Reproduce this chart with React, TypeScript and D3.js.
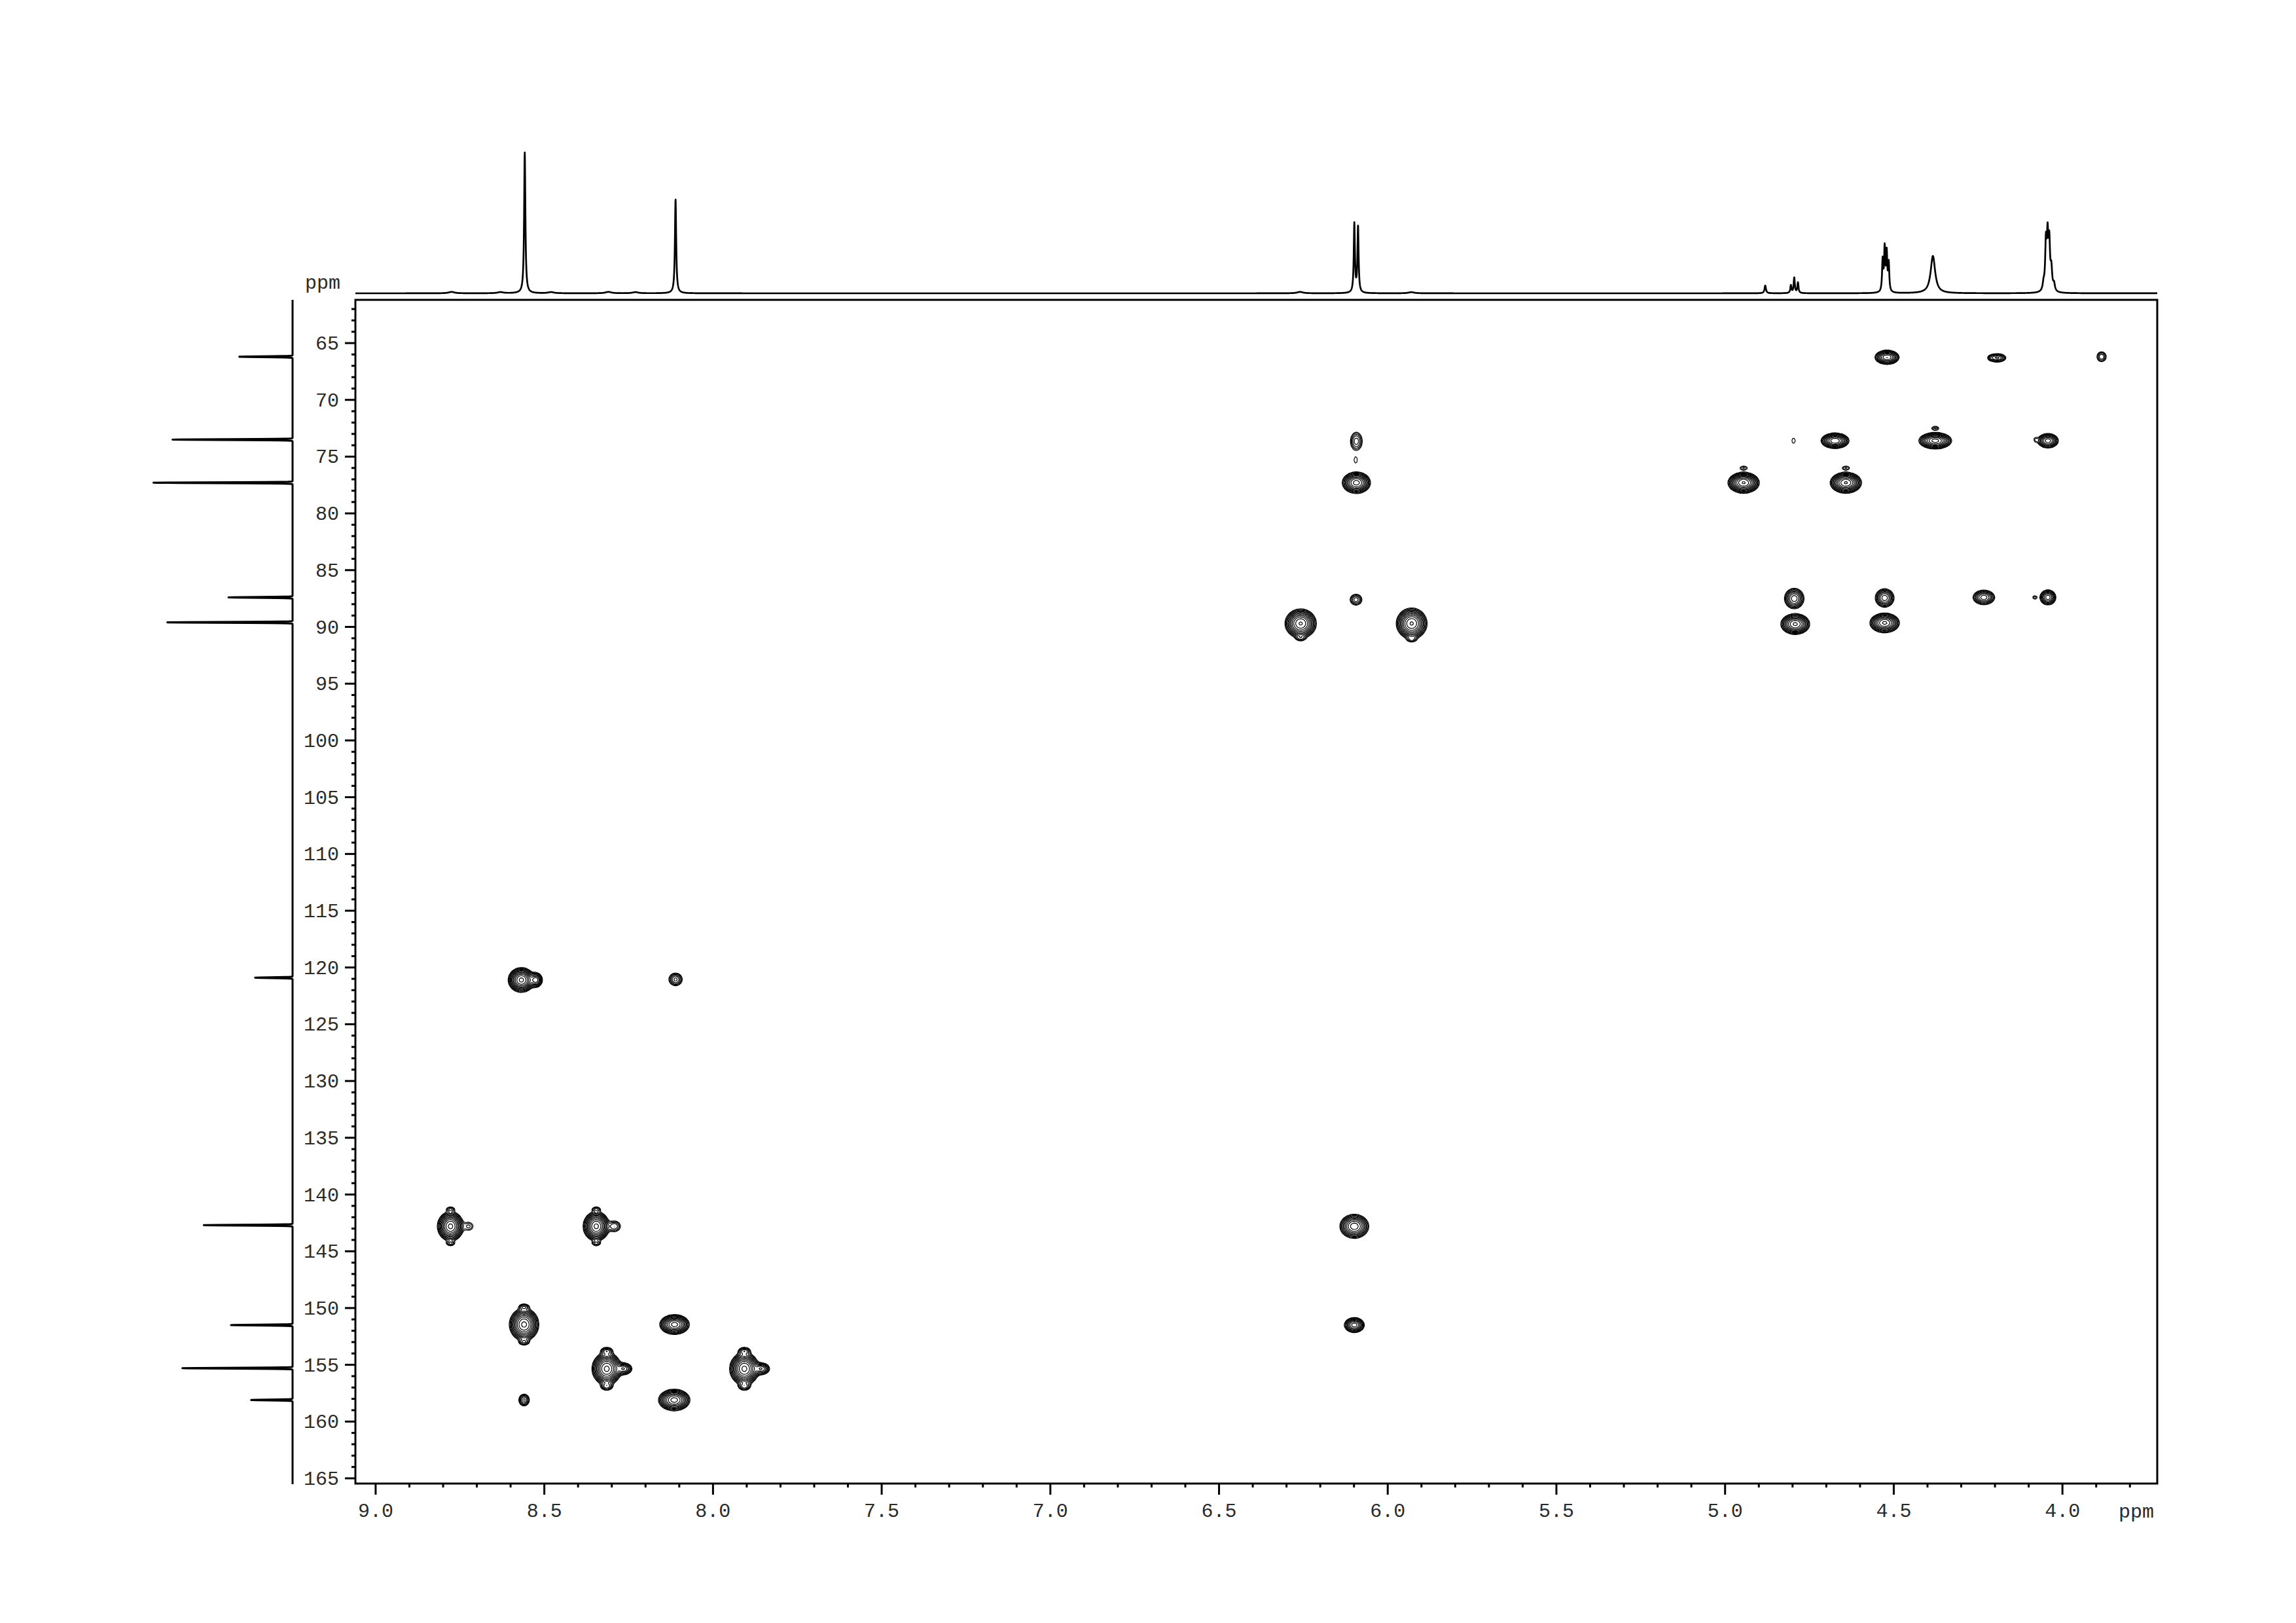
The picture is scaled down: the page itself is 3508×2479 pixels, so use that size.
import React, { useMemo } from 'react';
import * as d3 from 'd3';

// ---------- 1H projection (top) ----------
const hShift = [8.775, 8.63, 8.558, 8.48, 8.31, 8.23, 8.111, 6.26, 6.099, 6.088, 5.93, 4.881, 4.805, 4.795, 4.784, 4.533, 4.527, 4.521, 4.515, 4.384, 4.056, 4.049, 4.044, 4.039, 4.033, 4.025];
const hHeight = [0.01, 0.008, 1.0, 0.008, 0.01, 0.008, 0.67, 0.01, 0.49, 0.47, 0.008, 0.055, 0.055, 0.11, 0.075, 0.22, 0.3, 0.27, 0.2, 0.265, 0.05, 0.33, 0.36, 0.32, 0.15, 0.05];
const hWidth = [0.01, 0.01, 0.0022, 0.01, 0.01, 0.01, 0.0022, 0.01, 0.002, 0.002, 0.01, 0.0025, 0.002, 0.002, 0.002, 0.002, 0.002, 0.002, 0.002, 0.008, 0.003, 0.0025, 0.0025, 0.0025, 0.003, 0.003];

// ---------- 13C projection (left) ----------
const cShift = [66.2, 73.5, 77.3, 87.4, 89.6, 120.9, 142.7, 151.5, 155.3, 158.1];
const cHeight = [0.386, 0.856, 1.0, 0.456, 0.907, 0.27, 0.64, 0.44, 0.79, 0.3];

// ---------- 2D cross peaks ----------
const peakH = [4.520, 4.193, 4.212, 3.884, 4.797, 4.674, 4.377, 4.043, 4.08, 4.945, 4.642, 4.795, 4.792, 4.527, 4.527, 4.233, 4.043, 4.082,
  6.093, 6.095, 6.093, 6.094, 6.258, 5.929,
  8.778, 8.724, 8.346, 8.292, 8.56, 8.114, 8.315, 8.265, 7.907, 7.857, 8.56, 8.115,
  8.568, 8.525, 8.111, 6.099, 6.099,
  8.778, 8.778, 8.346, 8.346, 8.56, 8.56, 8.315, 8.315, 7.907, 7.907, 6.258, 5.929, 4.945, 4.642, 4.377];
const peakC = [66.25, 66.3, 66.3, 66.2, 73.6, 73.6, 73.6, 73.6, 73.5, 77.3, 77.3, 87.5, 89.75, 87.45, 89.65, 87.4, 87.4, 87.4,
  73.65, 75.3, 77.3, 87.6, 89.7, 89.7,
  142.8, 142.8, 142.8, 142.8, 151.45, 151.45, 155.35, 155.35, 155.35, 155.35, 158.1, 158.1,
  121.1, 121.1, 121.05, 142.8, 151.5,
  141.3, 144.3, 141.3, 144.3, 149.9, 153.0, 153.8, 156.9, 153.8, 156.9, 91.0, 91.1, 76.0, 76.0, 72.5];
const peakAmp = [0.45, 0.2, 0.05, 0.1, 0.04, 0.6, 0.7, 0.4, 0.04, 0.85, 0.85, 0.3, 0.65, 0.3, 0.65, 0.3, 0.3, 0.05,
  0.12, 0.04, 0.7, 0.12, 0.85, 0.85,
  0.9, 0.06, 0.9, 0.1, 0.9, 0.7, 0.9, 0.25, 0.9, 0.25, 0.15, 0.7,
  0.9, 0.3, 0.15, 0.55, 0.4,
  0.08, 0.08, 0.08, 0.08, 0.1, 0.1, 0.12, 0.12, 0.12, 0.12, 0.07, 0.07, 0.06, 0.06, 0.06];
const peakWH = [0.0154, 0.013, 0.006, 0.0088, 0.0064, 0.017, 0.0194, 0.0136, 0.005, 0.018, 0.018, 0.0135, 0.0173, 0.013, 0.0177, 0.015, 0.011, 0.006,
  0.0105, 0.006, 0.0167, 0.0105, 0.018, 0.0177,
  0.015, 0.0107, 0.015, 0.0113, 0.0168, 0.0175, 0.0168, 0.012, 0.0168, 0.012, 0.0087, 0.0186,
  0.015, 0.009, 0.011, 0.0178, 0.013,
  0.008, 0.008, 0.008, 0.008, 0.009, 0.009, 0.01, 0.01, 0.01, 0.01, 0.009, 0.009, 0.009, 0.009, 0.009];
const peakWC = [0.27, 0.19, 0.15, 0.28, 0.3, 0.28, 0.29, 0.28, 0.2, 0.36, 0.36, 0.42, 0.37, 0.38, 0.35, 0.3, 0.31, 0.15,
  0.48, 0.35, 0.38, 0.29, 0.5, 0.53,
  0.5, 0.29, 0.5, 0.3, 0.55, 0.35, 0.55, 0.25, 0.55, 0.25, 0.29, 0.38,
  0.42, 0.3, 0.31, 0.44, 0.29,
  0.14, 0.14, 0.14, 0.14, 0.16, 0.16, 0.2, 0.2, 0.2, 0.2, 0.15, 0.15, 0.14, 0.14, 0.14];

const xMajor = [9.0, 8.5, 8.0, 7.5, 7.0, 6.5, 6.0, 5.5, 5.0, 4.5, 4.0];
const yMajor = [65, 70, 75, 80, 85, 90, 95, 100, 105, 110, 115, 120, 125, 130, 135, 140, 145, 150, 155, 160, 165];

const FONT = "'Liberation Mono', 'DejaVu Sans Mono', monospace";

export default function App() {
  const W = 3508, H = 2479;
  const L = 543, R = 3296, T = 458, B = 2266;
  const x = d3.scaleLinear().domain([9.06, 3.719]).range([L, R]);
  const y = d3.scaleLinear().domain([61.19, 165.46]).range([T, B]);
  const hy = d3.scaleLinear().domain([0, 1]).range([448, 233]);
  const cx = d3.scaleLinear().domain([0, 1]).range([447, 232]);

  const hPath = useMemo(() => {
    const pts: [number, number][] = [];
    for (let px = L; px <= R; px += 0.25) {
      const d = x.invert(px);
      let v = 0;
      for (let k = 0; k < hShift.length; k++) {
        const g = hWidth[k];
        const dd = d - hShift[k];
        v += (hHeight[k] * g * g) / (dd * dd + g * g);
      }
      pts.push([px, hy(v)]);
    }
    return d3.line()(pts) || '';
  }, []);

  const cPath = useMemo(() => {
    const pts: [number, number][] = [];
    const sg = 0.035;
    for (let py = T; py <= B + 1; py += 0.25) {
      const d = y.invert(py);
      let v = 0;
      for (let k = 0; k < cShift.length; k++) {
        const dd = (d - cShift[k]) / sg;
        v += cHeight[k] * Math.exp(-0.5 * dd * dd);
      }
      pts.push([cx(v), py]);
    }
    return d3.line()(pts) || '';
  }, []);

  const contourPaths = useMemo(() => {
    const s = 2;
    const nx = Math.ceil((R - L) / s) + 1;
    const ny = Math.ceil((B - T) / s) + 1;
    const grid = new Float64Array(nx * ny);
    const kx = Math.abs(x(1) - x(0));
    const ky = Math.abs(y(1) - y(0));
    for (let p = 0; p < peakH.length; p++) {
      const cxp = (x(peakH[p]) - L) / s;
      const cyp = (y(peakC[p]) - T) / s;
      const sx = (peakWH[p] * kx) / s;
      const sy = (peakWC[p] * ky) / s;
      const i0 = Math.max(0, Math.floor(cxp - 4 * sx));
      const i1 = Math.min(nx - 1, Math.ceil(cxp + 4 * sx));
      const j0 = Math.max(0, Math.floor(cyp - 4 * sy));
      const j1 = Math.min(ny - 1, Math.ceil(cyp + 4 * sy));
      for (let j = j0; j <= j1; j++) {
        const ey = (j - cyp) / sy;
        for (let i = i0; i <= i1; i++) {
          const ex = (i - cxp) / sx;
          grid[j * nx + i] += peakAmp[p] * Math.exp(-0.5 * (ex * ex + ey * ey));
        }
      }
    }
    const thresholds = d3.range(12).map((k) => 0.03 * Math.pow(1.35, k));
    const cont = d3.contours().size([nx, ny]).thresholds(thresholds)(grid as any);
    const proj = d3.geoTransform({
      point(px: number, py: number) {
        (this as any).stream.point(L + (px - 0.5) * s, T + (py - 0.5) * s);
      },
    });
    const path = d3.geoPath(proj as any);
    return cont.map((c) => path(c as any) || '');
  }, []);

  const xMinor = d3.range(38, 91).map((v) => v / 10);
  const yMinor = d3.range(62, 166);
  const fmt = d3.format('.1f');

  return (
    <svg width={W} height={H} viewBox={`0 0 ${W} ${H}`} style={{ position: 'absolute', left: 0, top: 0, background: '#fff' }}>
      <rect x={0} y={0} width={W} height={H} fill="#fff" />
      <g fill="none" stroke="#000" strokeWidth={1.2}>
        {contourPaths.map((d, i) => (
          <path key={i} d={d} />
        ))}
      </g>
      <rect x={L} y={T} width={R - L} height={B - T} fill="none" stroke="#000" strokeWidth={3} />
      <g stroke="#000" strokeWidth={3}>
        {xMinor.map((v) => {
          const major = Math.abs(v * 2 - Math.round(v * 2)) < 1e-6;
          return <line key={v} x1={x(v)} x2={x(v)} y1={B} y2={B + (major ? 17 : 6)} />;
        })}
        {yMinor.map((v) => {
          const major = v % 5 === 0;
          return <line key={v} x1={L} x2={L - (major ? 16 : 6)} y1={y(v)} y2={y(v)} />;
        })}
      </g>
      <g fontFamily={FONT} fontSize={30} fill="#2a2a2a">
        {xMajor.map((v) => (
          <text key={v} x={x(v)} y={2317} textAnchor="middle">
            {fmt(v)}
          </text>
        ))}
        {yMajor.map((v) => (
          <text key={v} x={518} y={y(v) + 10} textAnchor="end">
            {v}
          </text>
        ))}
        <text x={520} y={441} textAnchor="end">ppm</text>
        <text x={3237} y={2318}>ppm</text>
      </g>
      <path d={hPath} fill="none" stroke="#000" strokeWidth={2.7} strokeLinejoin="round" />
      <path d={cPath} fill="none" stroke="#000" strokeWidth={3} strokeLinejoin="round" />
    </svg>
  );
}
